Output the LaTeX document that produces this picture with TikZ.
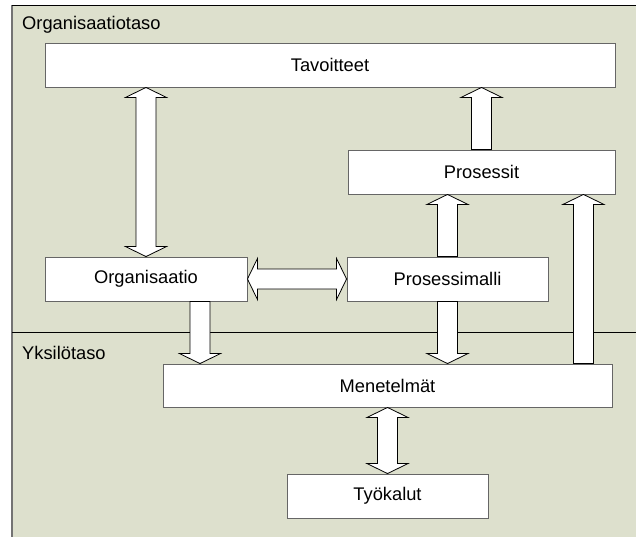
\documentclass[tikz,border=0pt]{standalone}
\usepackage{fontspec}
\setmainfont{Liberation Sans}
\usepackage{tikz}
\usetikzlibrary{calc,positioning}
\definecolor{panelbg}{RGB}{221,224,205}
\tikzset{
    box/.style={draw=black!60, line width=0.9pt, fill=white, minimum height=44pt, inner sep=0pt, font=\fontsize{18.3}{21}\selectfont},
    blkarr/.style={draw=black, line width=0.8pt, fill=white, line join=miter},
    level/.style={anchor=west, inner sep=0pt, font=\fontsize{18.3}{21}\selectfont}
}
% block arrow with one head, from #1 to #2
\newcommand{\blkarrow}[2]{%
    \path ($(#2)!10pt!(#1)$) coordinate (h);
    \draw[blkarr] ($(#1)!10pt!90:(#2)$) -- ($(h)!10pt!-90:(#1)$) -- ($(h)!20.5pt!-90:(#1)$) -- (#2)
        -- ($(h)!20.5pt!90:(#1)$) -- ($(h)!10pt!90:(#1)$) -- ($(#1)!10pt!-90:(#2)$) -- cycle;
}
% block arrow with two heads
\newcommand{\blkdblarrow}[2]{%
    \path ($(#1)!10pt!(#2)$) coordinate (h1) ($(#2)!10pt!(#1)$) coordinate (h2);
    \draw[blkarr] (#1) -- ($(h1)!20.5pt!90:(#2)$) -- ($(h1)!10pt!90:(#2)$) -- ($(h2)!10pt!-90:(#1)$)
        -- ($(h2)!20.5pt!-90:(#1)$) -- (#2) -- ($(h2)!20.5pt!90:(#1)$) -- ($(h2)!10pt!90:(#1)$)
        -- ($(h1)!10pt!-90:(#2)$) -- ($(h1)!20.5pt!-90:(#2)$) -- cycle;
}

\begin{document}
\begin{tikzpicture}[x=1pt, y=-1pt]
    \clip (0,0) rectangle (636,537);
    % background panel and the two levels
    \fill[panelbg] (12,5) rectangle (650,550);
    \draw[black!55, line width=1.5pt] (12,550) -- (12,5);
    \draw[black, line width=0.9pt] (12,5) -- (650,5);
    \draw[black, line width=0.9pt] (12,332) -- (650,332);
    \node[level] at (22,25) (orgtaso) {Organisaatiotaso};
    \node[level] at (22,353) (yksiltaso) {Yksilötaso};
    \node[box, minimum width=570pt] at (330,65) (tav) {Tavoitteet};
    \node[box, minimum width=267pt] at (481.5,172) (pros) {Prosessit};
    \node[box, minimum width=202pt] at (146,279) (org) {Organisaatio};
    \node[box, minimum width=201pt] at (447.5,279) (pmalli) {Prosessimalli};
    \node[box, minimum width=449pt, minimum height=43pt] at (387.5,385.5) (men) {Menetelmät};
    \node[box, minimum width=201pt] at (387.5,496) (tyok) {Työkalut};
    \coordinate (orgout) at ([xshift=54pt]org.south);
    \coordinate (menin) at ([xshift=-29pt]men.north east);
    \blkdblarrow{tav.south -| org.north}{org.north}
    \blkarrow{pros.north}{tav.south -| pros.north}
    \blkdblarrow{org.east}{pmalli.west}
    \blkarrow{pmalli.north}{pros.south -| pmalli.north}
    \blkarrow{orgout}{men.north -| orgout}
    \blkarrow{pmalli.south}{men.north -| pmalli.south}
    \blkarrow{menin}{pros.south -| menin}
    \blkdblarrow{men.south}{tyok.north}
\end{tikzpicture}
\end{document}
